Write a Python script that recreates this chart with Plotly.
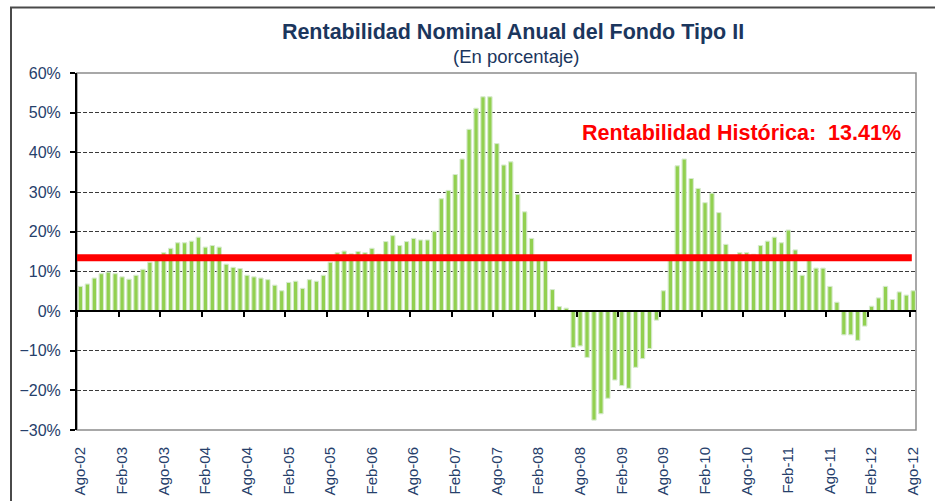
import plotly.graph_objects as go

# ---- data ----
values = [
    6.2, 6.8, 8.3, 9.4, 9.8, 9.4, 8.6, 8.0, 9.0, 10.5, 12.3, 13.3,
    14.7, 15.8, 17.2, 17.2, 17.6, 18.6, 16.1, 16.5, 16.1, 11.8, 11.0, 10.7,
    9.0, 8.6, 8.3, 7.9, 6.5, 5.1, 7.2, 7.5, 5.7, 7.9, 7.5, 9.0,
    12.3, 14.7, 15.1, 14.4, 15.0, 14.7, 15.8, 14.3, 17.5, 19.0, 16.5, 17.5,
    18.3, 17.9, 17.9, 20.1, 28.3, 30.4, 34.4, 38.3, 45.8, 51.1, 54.0, 54.0,
    42.2, 36.8, 37.6, 29.4, 25.0, 18.3, 13.2, 13.0, 5.4, 1.1, 0.7, -9.2,
    -8.8, -11.7, -27.5, -25.9, -22.0, -17.4, -18.8, -19.5, -14.2, -12.0, -9.5, -2.3,
    5.1, 13.0, 36.6, 38.3, 33.4, 30.9, 27.3, 29.7, 24.8, 16.8, 13.0, 14.7,
    14.7, 14.3, 16.5, 17.6, 18.6, 17.2, 20.4, 15.4, 9.0, 12.9, 10.8, 10.8,
    6.2, 2.2, -6.0, -6.0, -7.4, -3.8, 1.2, 3.3, 6.2, 2.9, 4.8, 4.0,
    5.1,
]
tick_labels = [
    "Ago-02", "Feb-03", "Ago-03", "Feb-04", "Ago-04", "Feb-05", "Ago-05",
    "Feb-06", "Ago-06", "Feb-07", "Ago-07", "Feb-08", "Ago-08", "Feb-09",
    "Ago-09", "Feb-10", "Ago-10", "Feb-11", "Ago-11", "Feb-12", "Ago-12",
]
historical = 13.41
title_text = "Rentabilidad Nominal Anual del Fondo Tipo II"
subtitle_text = "(En porcentaje)"
hist_label = "Rentabilidad Histórica:  13.41%"

# ---- derived ----
x_idx = list(range(len(values)))
label_pos = [i * 6 for i in range(len(tick_labels))]
tick_bounds = [p - 0.5 for p in label_pos]
xr = [-0.5, len(values) - 0.6]

FONT = "Liberation Sans, Arial, sans-serif"
NAVY = "#1B365D"
LABEL = "#26406B"

fig = go.Figure()
fig.add_trace(go.Bar(
    x=x_idx, y=values, width=0.62,
    marker=dict(color="#92D050", line=dict(color="#C8E8A6", width=0.8)),
    hoverinfo="y", showlegend=False,
))
# invisible copy on the overlay axis so it renders its ticks at y = 0
fig.add_trace(go.Bar(
    x=x_idx, y=values, xaxis="x2", width=0.62,
    marker=dict(color="rgba(0,0,0,0)"), hoverinfo="skip", showlegend=False,
))

fig.update_layout(
    width=935, height=501,
    margin=dict(l=77, r=19, t=73, b=71, autoexpand=False),
    paper_bgcolor="white", plot_bgcolor="white",
    barmode="overlay",
    font=dict(family=FONT, color=LABEL),
    title=dict(text="<b>" + title_text + "</b>", x=513 / 935, xanchor="center",
               y=1 - 31 / 501, yanchor="middle",
               font=dict(family=FONT, size=21.5, color=NAVY)),
    xaxis=dict(
        range=xr, tickmode="array", tickvals=label_pos, ticktext=tick_labels,
        tickangle=-90, ticks="outside", ticklen=10, tickcolor="rgba(0,0,0,0)",
        tickfont=dict(family=FONT, size=15, color=LABEL), automargin=False,
        showgrid=False, zeroline=False, showline=False,
    ),
    xaxis2=dict(
        range=xr, overlaying="x", anchor="free", position=1 / 3,
        tickmode="array", tickvals=tick_bounds, ticks="outside", ticklen=5,
        tickwidth=1.5, tickcolor="black", showticklabels=False, automargin=False,
        showgrid=False, zeroline=False, showline=True, linecolor="black", linewidth=2,
    ),
    yaxis=dict(
        range=[-30, 60], dtick=10, ticksuffix="%",
        ticks="outside", ticklen=5, tickwidth=1.5, tickcolor="black",
        ticklabelstandoff=6, automargin=False,
        tickfont=dict(family=FONT, size=16, color=LABEL),
        showgrid=True, gridcolor="#3a3a3a", gridwidth=1, griddash="4px,2px",
        zeroline=False, showline=True, linecolor="black", linewidth=2,
    ),
    shapes=[
        dict(type="rect", xref="x domain", yref="y domain", x0=0, x1=1, y0=0, y1=1,
             line=dict(color="#8c8c8c", width=1.5), layer="below"),
        dict(type="line", xref="x domain", yref="y", x0=0, x1=0.995,
             y0=historical, y1=historical, line=dict(color="#FF0000", width=7),
             layer="above"),
        dict(type="rect", xref="paper", yref="paper",
             x0=(11 - 77) / 839, x1=1.2, y0=-0.4, y1=(430 - 7.5) / 357,
             line=dict(color="#4a4a4a", width=2), layer="below"),
    ],
    annotations=[
        dict(text=subtitle_text, xref="paper", yref="paper",
             x=(516 - 77) / 839, y=(430 - 57) / 357, xanchor="center", yanchor="middle",
             showarrow=False, font=dict(family=FONT, size=18.5, color=NAVY)),
        dict(text="<b>" + hist_label + "</b>", xref="paper", yref="paper",
             x=(741 - 77) / 839, y=(430 - 133) / 357, xanchor="center", yanchor="middle",
             showarrow=False, font=dict(family=FONT, size=21.5, color="#FF0000")),
    ],
)

fig.write_html("out.html", config={"displayModeBar": False},
               post_script="document.body.style.margin='0px';")
